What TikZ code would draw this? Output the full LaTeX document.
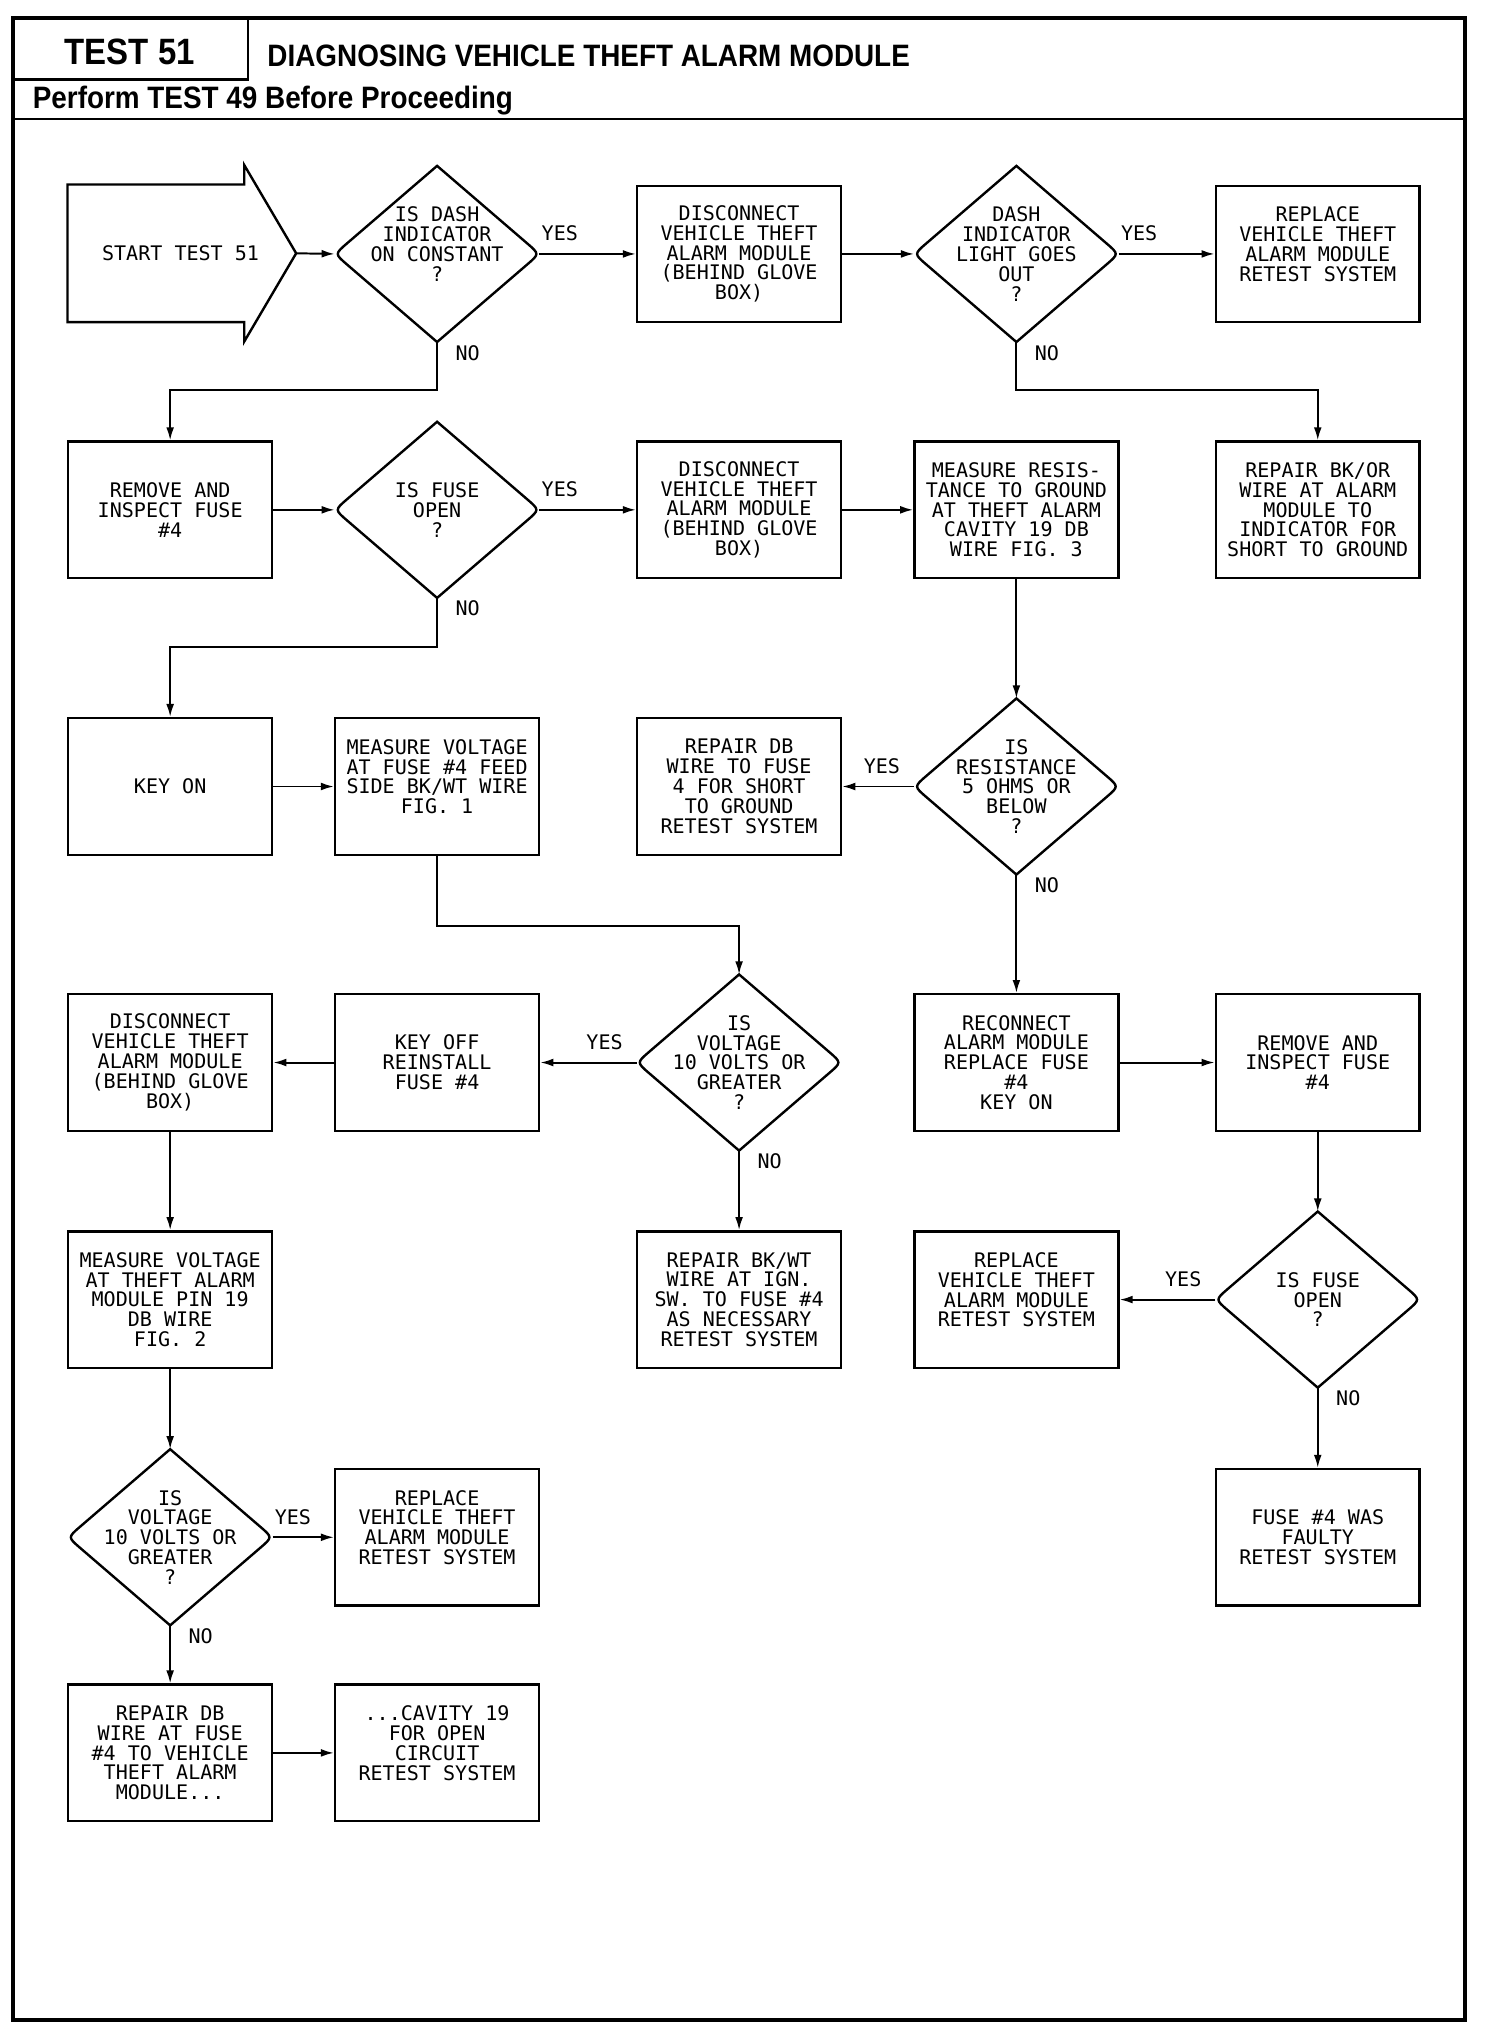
\documentclass[tikz,border=0pt]{standalone}
\usepackage{fontspec}
\setmainfont{Liberation Sans}
\newfontfamily\headfont[FakeStretch=0.9]{Liberation Sans}
\newfontfamily\plotfont{DejaVu Sans Mono}
\newcommand\plottext{\plotfont\fontsize{9.2pt}{9.1pt}\selectfont}
\newcommand\headtext{\headfont\bfseries\fontsize{14.2pt}{16pt}\selectfont}
\usetikzlibrary{calc,arrows.meta}

\begin{document}
\begin{tikzpicture}[x=0.5958pt,y=-0.5958pt,
    box/.style={draw,line width=1.1pt,minimum width=93.5pt,minimum height=62.6pt,inner sep=0pt,align=center,font=\plottext},
    decision/.style={minimum width=93.5pt,minimum height=80.4pt,inner sep=0pt,align=center,font=\plottext},
    outline/.style={line width=1.1pt},
    flow/.style={-{Latex[length=6pt,width=3.6pt]},line width=0.9pt},
    yeslab/.style={pos=0,anchor=south west,inner sep=0pt,xshift=0.6pt,yshift=5.5pt,font=\plottext},
    yeslabl/.style={pos=0,anchor=south east,inner sep=0pt,xshift=-6pt,yshift=5.5pt,font=\plottext},
    nolab/.style={pos=0,anchor=north west,inner sep=0pt,xshift=8pt,yshift=-1pt,font=\plottext}]
  \useasboundingbox (0,0) rectangle (1158.1,1569);
  \draw[line width=1.8pt] (10,14) rectangle (1128,1555);
  \draw[line width=1.2pt] (191,14) -- (191,61) -- (10,61);
  \draw[line width=1.2pt] (10,91.5) -- (1128,91.5);
  \node[font=\headfont\bfseries\fontsize{16.8pt}{18pt}\selectfont,anchor=base,inner sep=0pt] (tst) at (100,50) {TEST 51};
  \node[font=\headtext,anchor=base west,inner sep=0pt] (ttl) at (205.6,51) {DIAGNOSING VEHICLE THEFT ALARM MODULE};
  \node[font=\headtext,anchor=base west,inner sep=0pt] (pre) at (25,83.5) {Perform TEST 49 Before Proceeding};

  \draw[outline] (52,142) -- (188,142) -- (188,127) -- (228,195) -- (188,263) -- (188,248) -- (52,248) -- cycle;
  \node[font=\plottext] (st) at (139,195) {START TEST 51};
  \coordinate (tip) at (228,195);

  \node[decision] (d1) at (336.5,195.5) {IS DASH\\INDICATOR\\ON CONSTANT\\?\\\mbox{}};
  \node[box] (b1) at (569,195.5) {DISCONNECT\\VEHICLE THEFT\\ALARM MODULE\\(BEHIND GLOVE\\BOX)};
  \node[decision] (d2) at (782.5,195.5) {DASH\\INDICATOR\\LIGHT GOES\\OUT\\?};
  \node[box] (r1) at (1014.5,195.5) {REPLACE\\VEHICLE THEFT\\ALARM MODULE\\RETEST SYSTEM\\\mbox{}};

  \node[box] (b2) at (131,392.5) {REMOVE AND\\INSPECT FUSE\\\#4};
  \node[decision] (d3) at (336.5,392.5) {IS FUSE\\OPEN\\?};
  \node[box] (b3) at (569,392.5) {DISCONNECT\\VEHICLE THEFT\\ALARM MODULE\\(BEHIND GLOVE\\BOX)};
  \node[box] (m1) at (782.5,392.5) {MEASURE RESIS-\\TANCE TO GROUND\\AT THEFT ALARM\\CAVITY 19 DB\\WIRE FIG. 3};
  \node[box] (r2) at (1014.5,392.5) {REPAIR BK/OR\\WIRE AT ALARM\\MODULE TO\\INDICATOR FOR\\SHORT TO GROUND};

  \node[box] (k1) at (131,605.5) {KEY ON};
  \node[box] (v1) at (336.5,605.5) {MEASURE VOLTAGE\\AT FUSE \#4 FEED\\SIDE BK/WT WIRE\\FIG. 1\\\mbox{}};
  \node[box] (r3) at (569,605.5) {REPAIR DB\\WIRE TO FUSE\\4 FOR SHORT\\TO GROUND\\RETEST SYSTEM};
  \node[decision] (d4) at (782.5,605.5) {IS\\RESISTANCE\\5 OHMS OR\\BELOW\\?};

  \node[box] (dc) at (131,818) {DISCONNECT\\VEHICLE THEFT\\ALARM MODULE\\(BEHIND GLOVE\\BOX)};
  \node[box] (ko) at (336.5,818) {KEY OFF\\REINSTALL\\FUSE \#4};
  \node[decision] (d5) at (569,818) {IS\\VOLTAGE\\10 VOLTS OR\\GREATER\\?};
  \node[box] (rc) at (782.5,818) {RECONNECT\\ALARM MODULE\\REPLACE FUSE\\\#4\\KEY ON};
  \node[box] (ri) at (1014.5,818) {REMOVE AND\\INSPECT FUSE\\\#4};

  \node[box] (mv) at (131,1000.5) {MEASURE VOLTAGE\\AT THEFT ALARM\\MODULE PIN 19\\DB WIRE\\FIG. 2};
  \node[box] (rw) at (569,1000.5) {REPAIR BK/WT\\WIRE AT IGN.\\SW. TO FUSE \#4\\AS NECESSARY\\RETEST SYSTEM};
  \node[box] (rv) at (782.5,1000.5) {REPLACE\\VEHICLE THEFT\\ALARM MODULE\\RETEST SYSTEM\\\mbox{}};
  \node[decision] (d6) at (1014.5,1000.5) {IS FUSE\\OPEN\\?};

  \node[decision] (d7) at (131,1183.5) {IS\\VOLTAGE\\10 VOLTS OR\\GREATER\\?};
  \node[box] (rp) at (336.5,1183.5) {REPLACE\\VEHICLE THEFT\\ALARM MODULE\\RETEST SYSTEM\\\mbox{}};
  \node[box] (fw) at (1014.5,1183.5) {FUSE \#4 WAS\\FAULTY\\RETEST SYSTEM};

  \node[box] (rd) at (131,1349.5) {REPAIR DB\\WIRE AT FUSE\\\#4 TO VEHICLE\\THEFT ALARM\\MODULE...};
  \node[box] (cv) at (336.5,1349.5) {...CAVITY 19\\FOR OPEN\\CIRCUIT\\RETEST SYSTEM\\\mbox{}};

  \foreach \n in {d1,d2,d3,d4,d5,d6,d7}
    \draw[outline] (\n.north) -- ($(\n.east)!0.12!(\n.north)$) .. controls (\n.east) and (\n.east) .. ($(\n.east)!0.12!(\n.south)$)
      -- (\n.south) -- ($(\n.west)!0.12!(\n.south)$) .. controls (\n.west) and (\n.west) .. ($(\n.west)!0.12!(\n.north)$) -- cycle;

  \draw[flow] (tip) -- (d1.west);
  \draw[flow] (d1.east) -- node[yeslab] {YES} (b1.west);
  \draw[flow] (b1.east) -- (d2.west);
  \draw[flow] (d2.east) -- node[yeslab] {YES} (r1.west);
  \draw[flow] (d1.south) -- node[nolab] {NO} ++(0,37) -| (b2.north);
  \draw[flow] (d2.south) -- node[nolab] {NO} ++(0,37) -| (r2.north);
  \draw[flow] (b2.east) -- (d3.west);
  \draw[flow] (d3.east) -- node[yeslab] {YES} (b3.west);
  \draw[flow] (b3.east) -- (m1.west);
  \draw[flow] (d3.south) -- node[nolab] {NO} ++(0,38) -| (k1.north);
  \draw[flow] (k1.east) -- (v1.west);
  \draw[flow] (m1.south) -- (d4.north);
  \draw[flow] (d4.west) -- node[yeslabl] {YES} (r3.east);
  \draw[flow] (d4.south) -- node[nolab] {NO} (rc.north);
  \draw[flow] (v1.south) -- ++(0,54) -| (d5.north);
  \draw[flow] (d5.west) -- node[yeslabl] {YES} (ko.east);
  \draw[flow] (ko.west) -- (dc.east);
  \draw[flow] (d5.south) -- node[nolab] {NO} (rw.north);
  \draw[flow] (rc.east) -- (ri.west);
  \draw[flow] (dc.south) -- (mv.north);
  \draw[flow] (ri.south) -- (d6.north);
  \draw[flow] (d6.west) -- node[yeslabl] {YES} (rv.east);
  \draw[flow] (d6.south) -- node[nolab] {NO} (fw.north);
  \draw[flow] (mv.south) -- (d7.north);
  \draw[flow] (d7.east) -- node[yeslab] {YES} (rp.west);
  \draw[flow] (d7.south) -- node[nolab] {NO} (rd.north);
  \draw[flow] (rd.east) -- (cv.west);
\end{tikzpicture}
\end{document}
